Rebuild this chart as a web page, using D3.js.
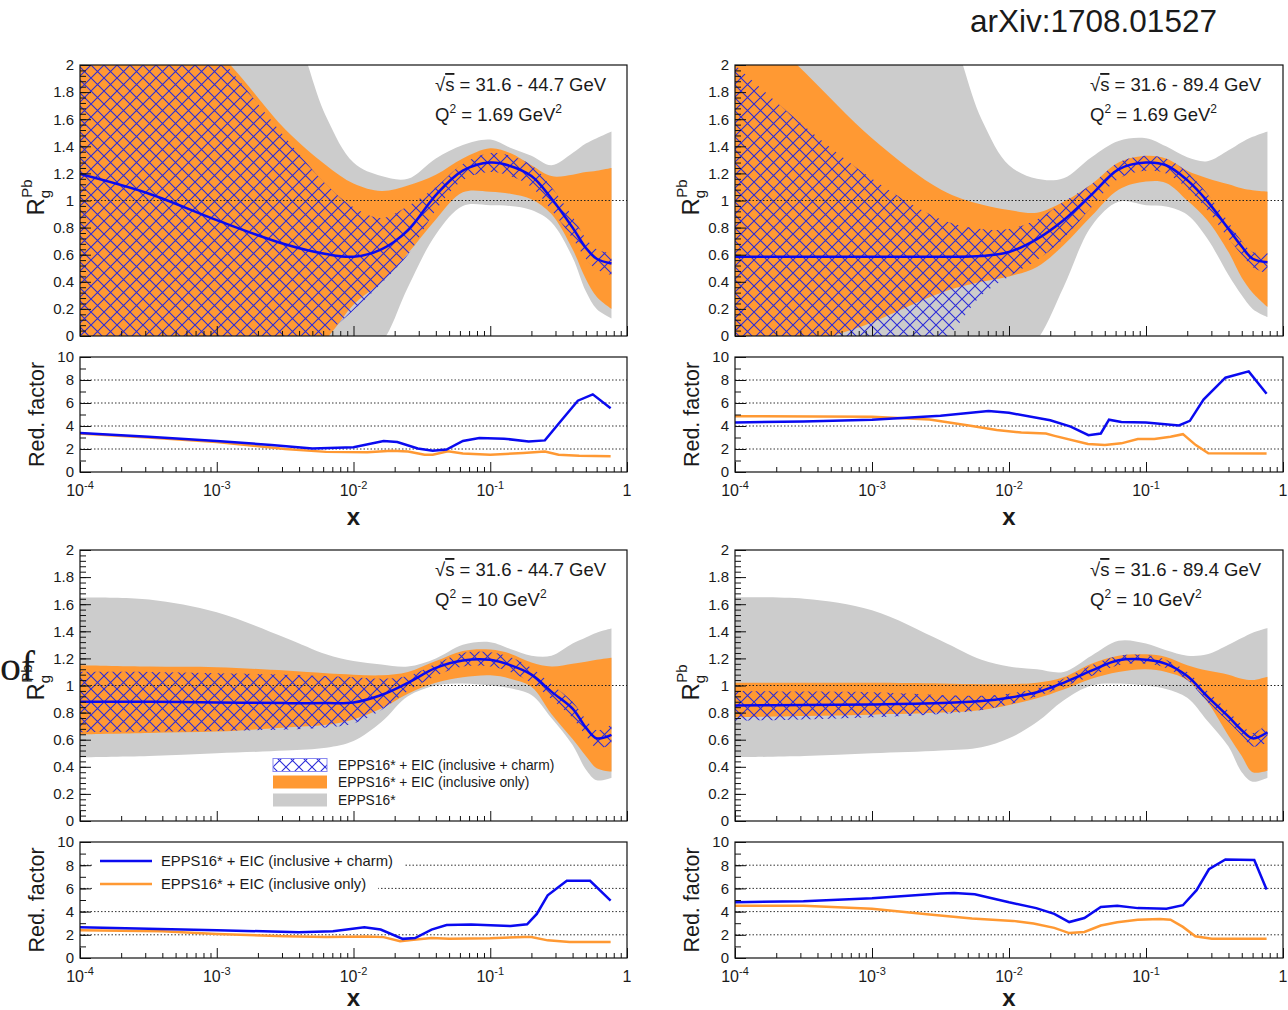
<!DOCTYPE html>
<html>
<head>
<meta charset="utf-8">
<script src="https://cdn.jsdelivr.net/npm/d3@7"></script>
<style>
  body { margin: 0; background: #fff; }
  svg text { font-family: "Liberation Sans", Arial, Helvetica, sans-serif; fill: #1a1a1a; }
</style>
</head>
<body>
<svg id="chart" width="1288" height="1010"></svg>
<script>
// x grid shared by the R_g bands (log spaced by eye)
const xGrid = [1e-4, 3.2e-4, 1e-3, 3.2e-3, 6.3e-3, 0.01, 0.016, 0.025, 0.04, 0.063, 0.1, 0.14, 0.2, 0.28, 0.4, 0.5, 0.6, 0.77];

// panel 1 : sqrt(s) 31.6-44.7, Q2 = 1.69
const central1 = [1.195, 1.05, 0.855, 0.675, 0.605, 0.585, 0.64, 0.78, 1.04, 1.22, 1.28, 1.255, 1.18, 1.015, 0.8, 0.65, 0.57, 0.535];
const charmLo1 = [-1.2, -0.7, -0.4, -0.15, 0.02, 0.19, 0.39, 0.6, 0.93, 1.15, 1.21, 1.18, 1.1, 0.93, 0.72, 0.57, 0.49, 0.45];
const charmHi1 = [3.0, 2.6, 2.08, 1.46, 1.12, 0.95, 0.87, 0.96, 1.1, 1.27, 1.35, 1.33, 1.26, 1.1, 0.88, 0.72, 0.64, 0.61];
const inclLo1 = [-1.2, -0.8, -0.5, -0.25, -0.02, 0.23, 0.4, 0.61, 0.86, 1.06, 1.065, 1.05, 1.01, 0.9, 0.64, 0.42, 0.29, 0.2];
const inclHi1 = [2.6, 2.45, 2.1, 1.52, 1.26, 1.125, 1.07, 1.11, 1.19, 1.31, 1.385, 1.35, 1.26, 1.18, 1.19, 1.21, 1.22, 1.24];
const eppsLo1 = [-2, -1.5, -1.1, -0.7, -0.4, -0.2, -0.05, 0.36, 0.75, 0.96, 0.965, 0.96, 0.93, 0.84, 0.58, 0.33, 0.2, 0.13];
const eppsHi1 = [3.2, 3.2, 3.0, 2.4, 1.62, 1.28, 1.18, 1.16, 1.31, 1.41, 1.45, 1.39, 1.33, 1.26, 1.35, 1.42, 1.46, 1.51];

// panel 2 : sqrt(s) 31.6-89.4, Q2 = 1.69
const central2 = [0.585, 0.585, 0.585, 0.585, 0.59, 0.62, 0.715, 0.854, 1.043, 1.23, 1.28, 1.26, 1.15, 0.995, 0.79, 0.66, 0.57, 0.544];
const charmLo2 = [-1.0, -0.6, -0.3, -0.05, 0.3, 0.44, 0.56, 0.72, 0.95, 1.16, 1.22, 1.2, 1.09, 0.93, 0.72, 0.6, 0.51, 0.46];
const charmHi2 = [2.0, 1.55, 1.16, 0.86, 0.79, 0.79, 0.86, 0.99, 1.12, 1.28, 1.33, 1.31, 1.21, 1.05, 0.84, 0.7, 0.62, 0.61];
const inclLo2 = [-0.6, -0.1, 0.1, 0.32, 0.4, 0.44, 0.51, 0.67, 0.885, 1.08, 1.14, 1.13, 1.0, 0.855, 0.62, 0.43, 0.32, 0.215];
const inclHi2 = [2.45, 1.95, 1.46, 1.08, 0.97, 0.93, 0.91, 0.99, 1.12, 1.28, 1.33, 1.31, 1.22, 1.165, 1.12, 1.09, 1.075, 1.065];
const eppsLo2 = [-2, -1.5, -1.1, -0.7, -0.45, -0.22, -0.03, 0.36, 0.81, 0.99, 0.965, 0.955, 0.895, 0.72, 0.45, 0.3, 0.2, 0.14];
const eppsHi2 = [3.2, 3.2, 3.0, 2.4, 1.6, 1.26, 1.16, 1.165, 1.32, 1.44, 1.46, 1.4, 1.32, 1.29, 1.37, 1.43, 1.47, 1.51];

// panel 3 : sqrt(s) 31.6-44.7, Q2 = 10
const central3 = [0.88, 0.88, 0.875, 0.87, 0.87, 0.875, 0.93, 1.02, 1.13, 1.185, 1.19, 1.15, 1.08, 0.955, 0.83, 0.69, 0.61, 0.635];
const charmLo3 = [0.655, 0.66, 0.665, 0.675, 0.69, 0.72, 0.82, 0.96, 1.07, 1.14, 1.14, 1.1, 1.02, 0.9, 0.76, 0.63, 0.54, 0.56];
const charmHi3 = [1.1, 1.1, 1.09, 1.08, 1.07, 1.06, 1.05, 1.07, 1.16, 1.24, 1.245, 1.21, 1.13, 1.01, 0.88, 0.75, 0.67, 0.71];
const inclLo3 = [0.64, 0.65, 0.66, 0.69, 0.71, 0.75, 0.83, 0.94, 1.02, 1.06, 1.075, 1.05, 0.99, 0.79, 0.605, 0.48, 0.39, 0.365];
const inclHi3 = [1.15, 1.14, 1.135, 1.11, 1.09, 1.08, 1.075, 1.1, 1.18, 1.255, 1.265, 1.235, 1.17, 1.14, 1.16, 1.175, 1.19, 1.205];
const eppsLo3 = [0.47, 0.48, 0.5, 0.52, 0.54, 0.59, 0.73, 0.92, 1.0, 1.015, 1.0, 0.98, 0.93, 0.76, 0.56, 0.38, 0.3, 0.32];
const eppsHi3 = [1.65, 1.635, 1.54, 1.35, 1.23, 1.18, 1.155, 1.14, 1.2, 1.3, 1.32, 1.27, 1.22, 1.22, 1.31, 1.355, 1.39, 1.42];

// panel 4 : sqrt(s) 31.6-89.4, Q2 = 10
const central4 = [0.852, 0.856, 0.86, 0.87, 0.885, 0.91, 0.95, 1.02, 1.11, 1.186, 1.19, 1.16, 1.07, 0.92, 0.77, 0.67, 0.61, 0.655];
const charmLo4 = [0.74, 0.75, 0.765, 0.79, 0.82, 0.86, 0.92, 0.99, 1.07, 1.15, 1.16, 1.13, 1.04, 0.88, 0.73, 0.63, 0.55, 0.58];
const charmHi4 = [0.96, 0.955, 0.95, 0.93, 0.925, 0.94, 0.98, 1.05, 1.15, 1.22, 1.225, 1.19, 1.1, 0.96, 0.81, 0.71, 0.65, 0.72];
const inclLo4 = [0.765, 0.775, 0.785, 0.8, 0.82, 0.857, 0.905, 0.97, 1.05, 1.1, 1.12, 1.1, 1.04, 0.88, 0.63, 0.48, 0.36, 0.37];
const inclHi4 = [1.02, 1.02, 1.02, 1.015, 1.01, 1.01, 1.02, 1.06, 1.16, 1.22, 1.23, 1.21, 1.15, 1.11, 1.08, 1.05, 1.04, 1.065];
const eppsLo4 = [0.47, 0.48, 0.5, 0.52, 0.545, 0.61, 0.73, 0.89, 1.0, 1.015, 1.0, 0.975, 0.91, 0.74, 0.55, 0.36, 0.29, 0.32];
const eppsHi4 = [1.65, 1.64, 1.555, 1.33, 1.19, 1.14, 1.12, 1.1, 1.22, 1.33, 1.31, 1.26, 1.22, 1.23, 1.3, 1.35, 1.39, 1.425];

// reduction factors [x, value]
const rfCharm1 = [[1e-4,3.4],[3.16e-4,3.07],[1e-3,2.7],[2.51e-3,2.35],[5.01e-3,2.05],[0.01,2.15],[0.0166,2.7],[0.0209,2.6],[0.0295,2.05],[0.038,1.85],[0.0479,1.95],[0.0631,2.7],[0.0832,2.95],[0.126,2.9],[0.191,2.65],[0.251,2.75],[0.316,4.2],[0.437,6.2],[0.562,6.75],[0.759,5.55]];
const rfIncl1 = [[1e-4,3.35],[3.16e-4,3.0],[1e-3,2.6],[3.16e-3,2.0],[6.31e-3,1.75],[0.0126,1.72],[0.0191,1.85],[0.0251,1.78],[0.0331,1.5],[0.038,1.5],[0.049,1.8],[0.0631,1.6],[0.1,1.5],[0.174,1.65],[0.251,1.78],[0.316,1.5],[0.447,1.42],[0.759,1.37]];
const rfCharm2 = [[1e-4,4.3],[3.16e-4,4.4],[1e-3,4.55],[3.16e-3,4.9],[7.08e-3,5.3],[0.01,5.15],[0.02,4.5],[0.0282,3.95],[0.038,3.2],[0.0468,3.35],[0.0537,4.55],[0.0661,4.35],[0.1,4.3],[0.174,4.05],[0.209,4.45],[0.263,6.3],[0.38,8.2],[0.562,8.75],[0.759,6.8]];
const rfIncl2 = [[1e-4,4.85],[1e-3,4.8],[2.63e-3,4.57],[5.37e-3,4.0],[8.13e-3,3.66],[0.0123,3.43],[0.0186,3.34],[0.0215,3.14],[0.0377,2.43],[0.0501,2.34],[0.0661,2.49],[0.0871,2.86],[0.115,2.86],[0.151,3.06],[0.186,3.29],[0.231,2.34],[0.285,1.63],[0.759,1.6]];
const rfCharm3 = [[1e-4,2.65],[1e-3,2.4],[3.98e-3,2.22],[7.08e-3,2.3],[0.012,2.65],[0.0158,2.45],[0.0229,1.65],[0.0282,1.72],[0.0372,2.45],[0.0479,2.85],[0.0724,2.88],[0.141,2.75],[0.186,2.9],[0.219,3.8],[0.263,5.4],[0.363,6.65],[0.537,6.65],[0.759,4.95]];
const rfIncl3 = [[1e-4,2.4],[3.98e-4,2.3],[1e-3,2.07],[3.16e-3,1.87],[6.31e-3,1.82],[0.0126,1.85],[0.0166,1.8],[0.0219,1.45],[0.0275,1.58],[0.0372,1.73],[0.0501,1.67],[0.1,1.7],[0.178,1.82],[0.2,1.8],[0.263,1.52],[0.38,1.38],[0.759,1.38]];
const rfCharm4 = [[1e-4,4.8],[3.16e-4,4.9],[1e-3,5.15],[3.16e-3,5.55],[3.98e-3,5.6],[5.62e-3,5.5],[0.01,4.8],[0.0158,4.3],[0.0214,3.8],[0.0275,3.1],[0.0355,3.45],[0.0468,4.4],[0.0617,4.5],[0.0871,4.3],[0.141,4.25],[0.186,4.55],[0.234,5.85],[0.288,7.65],[0.38,8.5],[0.617,8.45],[0.759,5.9]];
const rfIncl4 = [[1e-4,4.5],[3.16e-4,4.5],[1e-3,4.25],[2.63e-3,3.75],[5.37e-3,3.4],[0.0107,3.2],[0.0151,2.97],[0.0214,2.6],[0.0275,2.15],[0.0355,2.25],[0.0468,2.8],[0.0617,3.08],[0.0871,3.3],[0.126,3.37],[0.151,3.3],[0.186,2.68],[0.229,1.87],[0.302,1.67],[0.759,1.67]];

const sqrtLabels = ["31.6 - 44.7", "31.6 - 89.4", "31.6 - 44.7", "31.6 - 89.4"];
const q2Labels = ["1.69", "1.69", "10", "10"];
const legendLabels = ["EPPS16* + EIC (inclusive + charm)", "EPPS16* + EIC (inclusive only)", "EPPS16*"];

const panels = [
  {left: 80,  right: 627,  top: 65,  bot: 336, rtop: 357, rbot: 472, xlab: 525, c: central1, cl: charmLo1, ch: charmHi1, il: inclLo1, ih: inclHi1, el: eppsLo1, eh: eppsHi1, rc: rfCharm1, ri: rfIncl1},
  {left: 735, right: 1283, top: 65,  bot: 336, rtop: 357, rbot: 472, xlab: 525, c: central2, cl: charmLo2, ch: charmHi2, il: inclLo2, ih: inclHi2, el: eppsLo2, eh: eppsHi2, rc: rfCharm2, ri: rfIncl2},
  {left: 80,  right: 627,  top: 550, bot: 821, rtop: 842, rbot: 958, xlab: 1006, c: central3, cl: charmLo3, ch: charmHi3, il: inclLo3, ih: inclHi3, el: eppsLo3, eh: eppsHi3, rc: rfCharm3, ri: rfIncl3},
  {left: 735, right: 1283, top: 550, bot: 821, rtop: 842, rbot: 958, xlab: 1006, c: central4, cl: charmLo4, ch: charmHi4, il: inclLo4, ih: inclHi4, el: eppsLo4, eh: eppsHi4, rc: rfCharm4, ri: rfIncl4}
];

const ORANGE = "#ff9933", GREY = "#cccccc", BLUE = "#0a0af0", HATCH = "#2b2bd8";

const svg = d3.select("#chart");
const defs = svg.append("defs");
defs.append("pattern")
  .attr("id", "hatch").attr("patternUnits", "userSpaceOnUse")
  .attr("width", 13).attr("height", 13)
  .append("path")
  .attr("d", "M0,0L13,13M13,0L0,13")
  .attr("stroke", HATCH).attr("stroke-width", 1.1).attr("fill", "none");

const decades = [1e-4, 1e-3, 1e-2, 1e-1, 1];
var minorX = [];
decades.slice(0, 4).forEach(function(d) { for (var k = 2; k < 10; k++) minorX.push(d * k); });

function xAxis(g, x, y0, labels) {
  g.append("g").attr("transform", `translate(0,${y0})`)
    .call(d3.axisBottom(x).tickValues(minorX).tickSize(-5).tickFormat(""))
    .call(s => s.select(".domain").remove());
  g.append("g").attr("transform", `translate(0,${y0})`)
    .call(d3.axisBottom(x).tickValues(decades).tickSize(-10).tickFormat(""))
    .call(s => s.select(".domain").remove());
  g.selectAll(".tick line").attr("stroke", "#111");
  if (!labels) return;
  decades.forEach(function(d) {
    var t = g.append("text").attr("x", x(d)).attr("y", y0 + 24)
      .attr("text-anchor", "middle").style("font-size", "16px");
    if (d == 1) { t.text("1"); return; }
    t.append("tspan").text("10");
    t.append("tspan").attr("dy", -7).style("font-size", "11px").text(String(Math.round(Math.log10(d))));
  });
}

function yAxis(g, y, x0, major, minor, size) {
  g.append("g").attr("transform", `translate(${x0},0)`)
    .call(d3.axisLeft(y).tickValues(minor).tickSize(-6).tickFormat(""))
    .call(s => s.select(".domain").remove());
  g.append("g").attr("transform", `translate(${x0},0)`)
    .call(d3.axisLeft(y).tickValues(major).tickSize(-11).tickPadding(6).tickFormat(d3.format("~g")))
    .call(s => s.select(".domain").remove())
    .call(s => s.selectAll("text").style("font-size", size).attr("fill", "#1a1a1a"));
  g.selectAll(".tick line").attr("stroke", "#111");
}

panels.forEach(function(p, i) {
  const g = svg.append("g");
  const x = d3.scaleLog().domain([1e-4, 1]).range([p.left, p.right]);
  const y = d3.scaleLinear().domain([0, 2]).range([p.bot, p.top]);
  const yr = d3.scaleLinear().domain([0, 10]).range([p.rbot, p.rtop]);

  defs.append("clipPath").attr("id", "clipU" + i).append("rect")
    .attr("x", p.left).attr("y", p.top).attr("width", p.right - p.left).attr("height", p.bot - p.top);
  defs.append("clipPath").attr("id", "clipL" + i).append("rect")
    .attr("x", p.left).attr("y", p.rtop).attr("width", p.right - p.left).attr("height", p.rbot - p.rtop);

  // ---- upper: nuclear modification bands
  const up = g.append("g").attr("clip-path", `url(#clipU${i})`);
  function band(lo, hi) {
    return d3.area().curve(d3.curveCatmullRom)
      .x((d, j) => x(xGrid[j])).y0((d, j) => y(lo[j])).y1((d, j) => y(hi[j]))(xGrid);
  }
  up.append("path").attr("d", band(p.el, p.eh)).attr("fill", GREY);
  up.append("path").attr("d", band(p.il, p.ih)).attr("fill", ORANGE);
  up.append("path").attr("d", band(p.cl, p.ch)).attr("fill", "url(#hatch)");
  up.append("line").attr("x1", p.left).attr("x2", p.right).attr("y1", y(1)).attr("y2", y(1))
    .attr("stroke", "#222").attr("stroke-dasharray", "1.5,2").attr("stroke-width", 1);
  up.append("path")
    .attr("d", d3.line().curve(d3.curveCatmullRom).x((d, j) => x(xGrid[j])).y(d => y(d))(p.c))
    .attr("fill", "none").attr("stroke", BLUE).attr("stroke-width", 2.5);

  xAxis(g, x, p.bot, false);
  yAxis(g, y, p.left, d3.range(0, 2.01, 0.2), d3.range(0, 2.01, 0.04), "15px");
  g.append("rect").attr("x", p.left).attr("y", p.top).attr("width", p.right - p.left).attr("height", p.bot - p.top)
    .attr("fill", "none").attr("stroke", "#111").attr("stroke-width", 1.2);

  // R_g^Pb title
  const ry = g.append("text")
    .attr("transform", `translate(${p.left - 36},${(p.top + p.bot) / 2 - 3}) rotate(-90)`)
    .attr("text-anchor", "middle").style("font-size", "24px");
  ry.append("tspan").text("R");
  ry.append("tspan").attr("dy", 6).style("font-size", "15px").text("g");
  ry.append("tspan").attr("dx", -8).attr("dy", -18).style("font-size", "15px").text("Pb");

  // energy / Q2 text
  const t1 = g.append("text").attr("x", p.left + 355).attr("y", p.top + 26).style("font-size", "18.5px");
  t1.append("tspan").text("\u221A");
  t1.append("tspan").style("text-decoration", "overline").text("s");
  t1.append("tspan").text(" = " + sqrtLabels[i] + " GeV");
  const t2 = g.append("text").attr("x", p.left + 355).attr("y", p.top + 56).style("font-size", "18.5px");
  t2.append("tspan").text("Q");
  t2.append("tspan").attr("dy", -8).style("font-size", "12px").text("2");
  t2.append("tspan").attr("dy", 8).text(" = " + q2Labels[i] + " GeV");
  t2.append("tspan").attr("dy", -8).style("font-size", "12px").text("2");

  // ---- lower: reduction factor
  const lo = g.append("g");
  const lc = lo.append("g").attr("clip-path", `url(#clipL${i})`);
  [2, 4, 6, 8].forEach(function(v) {
    lc.append("line").attr("x1", p.left).attr("x2", p.right).attr("y1", yr(v)).attr("y2", yr(v))
      .attr("stroke", "#333").attr("stroke-dasharray", "1.5,2").attr("stroke-width", 1);
  });
  const rfLine = d3.line().x(d => x(d[0])).y(d => yr(d[1]));

  if (i == 2) {
    // legend of the reduction factor panel
    [[legendLabels[0], BLUE, 861], [legendLabels[1], ORANGE, 884]].forEach(function(r) {
      const bg = lc.append("rect").attr("fill", "#fff");
      const tx = lc.append("text").attr("x", 161).attr("y", r[2]).attr("dy", "0.35em")
        .style("font-size", "14.8px").text(r[0]);
      const w = tx.node().getComputedTextLength();
      bg.attr("x", 92).attr("y", r[2] - 9).attr("width", 161 + w + 12 - 92).attr("height", 18);
      lc.append("line").attr("x1", 100).attr("x2", 152).attr("y1", r[2]).attr("y2", r[2])
        .attr("stroke", r[1]).attr("stroke-width", 2.6);
    });
  }

  lc.append("path").attr("d", rfLine(p.ri)).attr("fill", "none").attr("stroke", ORANGE).attr("stroke-width", 2.5);
  lc.append("path").attr("d", rfLine(p.rc)).attr("fill", "none").attr("stroke", BLUE).attr("stroke-width", 2.5);

  xAxis(lo, x, p.rbot, true);
  yAxis(lo, yr, p.left, [0, 2, 4, 6, 8, 10], d3.range(0, 10.01, 1), "15px");
  lo.append("rect").attr("x", p.left).attr("y", p.rtop).attr("width", p.right - p.left).attr("height", p.rbot - p.rtop)
    .attr("fill", "none").attr("stroke", "#111").attr("stroke-width", 1.2);

  lo.append("text")
    .attr("transform", `translate(${p.left - 36},${(p.rtop + p.rbot) / 2}) rotate(-90)`)
    .attr("text-anchor", "middle").style("font-size", "21.5px").text("Red. factor");
  lo.append("text").attr("x", (p.left + p.right) / 2).attr("y", p.xlab)
    .attr("text-anchor", "middle").style("font-size", "24px").style("font-weight", "bold").text("x");
});

// legend of the band panel (bottom left)
const leg = svg.append("g");
const legRows = [[legendLabels[0], "url(#hatch)", 765], [legendLabels[1], ORANGE, 782], [legendLabels[2], GREY, 800]];
legRows.forEach(function(r, k) {
  leg.append("rect").attr("x", 273).attr("y", r[2] - 6.5).attr("width", 54).attr("height", 13)
    .attr("fill", r[1]).attr("stroke", k == 0 ? "#8a8af0" : "none").attr("stroke-width", 1);
  leg.append("text").attr("x", 338).attr("y", r[2]).attr("dy", "0.35em")
    .style("font-size", "13.8px").text(r[0]);
});

svg.append("text").attr("x", 970).attr("y", 32).style("font-size", "31.5px").text("arXiv:1708.01527");
svg.append("text").attr("x", 0).attr("y", 680).style("font-family", "'Liberation Serif', 'Times New Roman', serif")
  .style("font-size", "42px").text("of");
</script>
</body>
</html>
